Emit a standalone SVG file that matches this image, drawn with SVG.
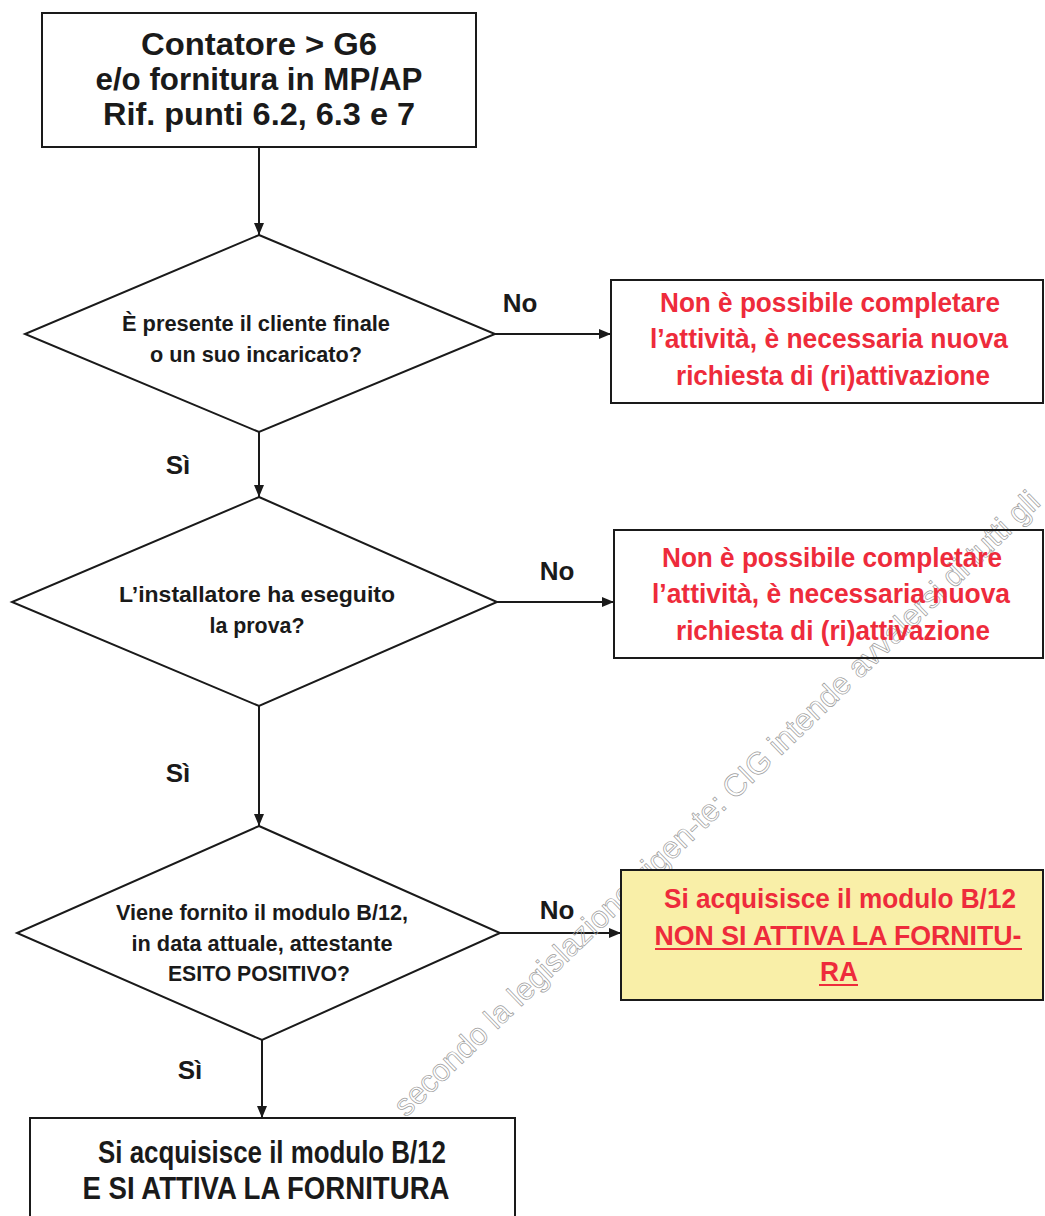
<svg xmlns="http://www.w3.org/2000/svg" width="1045" height="1216" viewBox="0 0 1045 1216">
<defs>
<marker id="ah" markerWidth="12" markerHeight="10" refX="12" refY="5" orient="auto" markerUnits="userSpaceOnUse">
<path d="M0,0 L12,5 L0,10 Z" fill="#1a1a1a"/>
</marker>
<style>
.box{fill:none;stroke:#1a1a1a;stroke-width:2}
.yb{fill:#F9EFA8;stroke:#1a1a1a;stroke-width:2}
.dia{fill:#fff;stroke:#1a1a1a;stroke-width:2}
.t{font-family:"Liberation Sans",Arial,sans-serif;font-weight:bold;text-anchor:middle;fill:#1a1a1a}
.big{font-size:32px}
.red{font-size:28px;fill:#EE2B3B}
.dt{font-size:22px}
.lbl{font-size:26px}
.bot{font-size:32px}
.ul{stroke:#EE2B3B;stroke-width:2}
.wm{font-family:"Liberation Sans",Arial,sans-serif;font-size:31px;fill:none;stroke:#9c9c9c;stroke-width:0.7}
.con{stroke:#1a1a1a;stroke-width:2;fill:none}
</style>
</defs>
<rect width="1045" height="1216" fill="#fff"/>

<g id="connectors">
<line class="con" x1="259" y1="147" x2="259" y2="235" marker-end="url(#ah)"/>
<line class="con" x1="495" y1="334" x2="611" y2="334" marker-end="url(#ah)"/>
<line class="con" x1="259" y1="432" x2="259" y2="497" marker-end="url(#ah)"/>
<line class="con" x1="497" y1="602" x2="614" y2="602" marker-end="url(#ah)"/>
<line class="con" x1="259" y1="706" x2="259" y2="826" marker-end="url(#ah)"/>
<line class="con" x1="500" y1="933" x2="621" y2="933" marker-end="url(#ah)"/>
<line class="con" x1="262" y1="1040" x2="262" y2="1118" marker-end="url(#ah)"/>
</g>

<g id="labels">
<text class="t lbl" x="520" y="312">No</text>
<text class="t lbl" x="557" y="580">No</text>
<text class="t lbl" x="557" y="919">No</text>
<text class="t lbl" x="178" y="474">Sì</text>
<text class="t lbl" x="178" y="782">Sì</text>
<text class="t lbl" x="190" y="1079">Sì</text>
</g>

<g id="start">
<rect class="box" x="42" y="13" width="434" height="134"/>
<text class="t big" x="259" y="55" textLength="236" lengthAdjust="spacingAndGlyphs">Contatore &gt; G6</text>
<text class="t big" x="259" y="90" textLength="327" lengthAdjust="spacingAndGlyphs">e/o fornitura in MP/AP</text>
<text class="t big" x="259" y="125" textLength="312" lengthAdjust="spacingAndGlyphs">Rif. punti 6.2, 6.3 e 7</text>
</g>

<g id="dec1">
<polygon class="dia" points="259,235 495,334 259,432 25,334"/>
<text class="t dt" x="256" y="331" textLength="268" lengthAdjust="spacingAndGlyphs">È presente il cliente finale</text>
<text class="t dt" x="256" y="362" textLength="212" lengthAdjust="spacingAndGlyphs">o un suo incaricato?</text>
</g>

<g id="dec2">
<polygon class="dia" points="259,497 497,602 259,706 12,602"/>
<text class="t dt" x="257" y="602" textLength="276" lengthAdjust="spacingAndGlyphs">L’installatore ha eseguito</text>
<text class="t dt" x="257" y="633" textLength="95" lengthAdjust="spacingAndGlyphs">la prova?</text>
</g>

<g id="dec3">
<polygon class="dia" points="259,826 500,933 262,1040 17,933"/>
<text class="t dt" x="262" y="920" textLength="292" lengthAdjust="spacingAndGlyphs">Viene fornito il modulo B/12,</text>
<text class="t dt" x="262" y="951" textLength="261" lengthAdjust="spacingAndGlyphs">in data attuale, attestante</text>
<text class="t dt" x="259" y="981" textLength="182" lengthAdjust="spacingAndGlyphs">ESITO POSITIVO?</text>
</g>

<g id="watermark">
<text class="wm" transform="translate(406,1118) rotate(-44)">secondo la legislazione vigen-te: CIG intende avvalersi di tutti gli</text>
</g>

<g id="stop1">
<rect class="box" x="611" y="280" width="432" height="123"/>
<text class="t red" x="830" y="312" textLength="340" lengthAdjust="spacingAndGlyphs">Non è possibile completare</text>
<text class="t red" x="829" y="348" textLength="358" lengthAdjust="spacingAndGlyphs">l’attività, è necessaria nuova</text>
<text class="t red" x="833" y="385" textLength="314" lengthAdjust="spacingAndGlyphs">richiesta di (ri)attivazione</text>
</g>

<g id="stop2">
<rect class="box" x="614" y="530" width="429" height="128"/>
<text class="t red" x="832" y="567" textLength="340" lengthAdjust="spacingAndGlyphs">Non è possibile completare</text>
<text class="t red" x="831" y="603" textLength="358" lengthAdjust="spacingAndGlyphs">l’attività, è necessaria nuova</text>
<text class="t red" x="833" y="640" textLength="314" lengthAdjust="spacingAndGlyphs">richiesta di (ri)attivazione</text>
</g>

<g id="stop3">
<rect class="yb" x="621" y="870" width="422" height="130"/>
<text class="t red" x="840" y="908" textLength="352" lengthAdjust="spacingAndGlyphs">Si acquisisce il modulo B/12</text>
<text class="t red" x="838" y="945" textLength="367" lengthAdjust="spacingAndGlyphs">NON SI ATTIVA LA FORNITU-</text>
<line class="ul" x1="655" y1="949" x2="1022" y2="949"/>
<text class="t red" x="839" y="981" textLength="38" lengthAdjust="spacingAndGlyphs">RA</text>
<line class="ul" x1="819" y1="985" x2="858" y2="985"/>
</g>

<g id="end">
<rect class="box" x="30" y="1118" width="485" height="110"/>
<text class="t bot" x="272" y="1163" textLength="348" lengthAdjust="spacingAndGlyphs">Si acquisisce il modulo B/12</text>
<text class="t bot" x="266" y="1199" textLength="367" lengthAdjust="spacingAndGlyphs">E SI ATTIVA LA FORNITURA</text>
</g>
</svg>
